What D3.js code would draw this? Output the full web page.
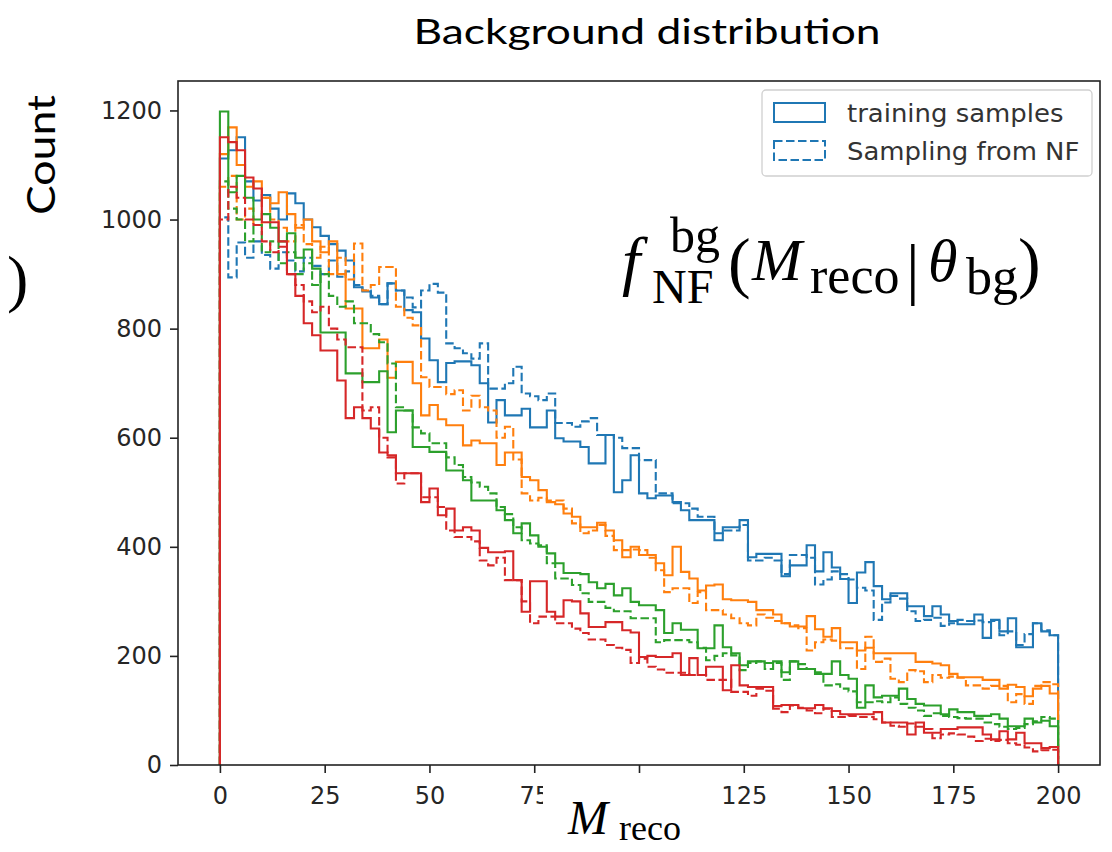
<!DOCTYPE html>
<html>
<head>
<meta charset="utf-8">
<script src="https://cdn.jsdelivr.net/npm/d3@7"></script>
<style>
  body { margin: 0; background: #fff; }
  text { font-family: "DejaVu Sans", sans-serif; }
</style>
</head>
<body>
<svg id="chart" width="1112" height="852"></svg>
<script>
// histogram counts, 100 bins of width 2 over [0, 200]
const binWidth = 2;
const xTicks = [0, 25, 50, 75, 100, 125, 150, 175, 200];
const yTicks = [0, 200, 400, 600, 800, 1000, 1200];

const trainBlue = [1112,1127,1151,1070,1035,1045,1020,1000,1048,1030,
  1000,986,970,955,943,925,876,868,857,845,
  883,870,834,830,782,742,702,737,740,740,
  733,700,628,669,641,641,653,619,619,650,
  599,593,593,583,553,553,605,500,522,568,
  498,489,494,494,482,467,449,449,449,412,
  436,436,449,381,387,387,387,346,366,366,
  403,355,390,362,341,297,353,372,328,304,
  315,315,291,291,273,291,276,264,258,258,
  276,233,266,245,269,216,216,260,245,238];
const nfBlue = [1004,894,958,930,960,935,910,940,925,905,
  930,915,900,925,895,905,880,870,860,845,
  883,870,857,839,870,882,866,773,764,755,
  745,773,690,690,700,730,681,676,669,681,
  627,627,620,630,636,605,605,600,581,581,
  559,559,498,498,480,480,470,455,455,425,
  430,430,440,375,375,380,375,350,385,385,
  380,331,340,355,350,340,325,320,266,298,
  310,305,282,264,266,270,255,260,266,264,
  265,262,264,238,245,220,240,260,247,238];
const trainOrange = [1120,1169,1100,1060,1070,1040,1030,1050,1010,985,
  1000,960,940,960,900,837,837,764,764,780,
  710,739,739,700,641,660,634,623,623,586,
  595,590,590,550,573,573,528,522,504,482,
  478,461,455,436,436,444,430,412,381,400,
  385,385,370,348,400,354,342,320,329,331,
  304,302,302,299,284,284,276,260,254,254,
  273,249,235,251,225,225,210,215,205,205,
  205,205,205,189,189,186,183,167,161,161,
  161,156,156,140,147,143,126,140,145,131];
const nfOrange = [1060,1080,1000,1020,990,1040,1000,985,960,990,
  955,930,950,900,930,890,956,870,880,913,
  913,840,820,806,711,693,693,680,687,650,
  677,656,650,600,620,560,498,485,490,485,
  485,470,443,425,430,440,420,394,394,395,
  394,380,357,317,324,324,297,317,284,284,
  276,269,260,256,276,270,264,260,256,251,
  210,225,230,228,214,214,176,235,189,195,
  158,152,174,172,152,165,160,162,160,146,
  146,140,145,145,115,130,112,145,152,148];
const trainGreen = [1198,1050,1080,1040,1000,1010,985,960,975,930,
  945,910,793,793,793,718,718,702,702,722,
  610,650,650,583,583,574,574,540,540,522,
  485,485,485,467,449,425,443,421,400,388,
  370,352,352,350,335,324,332,311,324,299,
  293,293,284,242,260,248,248,214,214,256,
  216,205,183,190,190,187,190,170,190,176,
  176,167,167,190,165,158,105,146,124,127,
  127,140,121,112,109,109,93,102,97,97,
  90,90,93,85,71,71,85,78,81,71];
const nfGreen = [1070,1020,1000,960,990,940,960,920,940,900,
  920,880,900,860,840,850,810,810,790,775,
  736,656,650,619,608,590,590,564,550,528,
  518,510,498,473,460,436,412,406,403,370,
  342,342,330,315,299,299,288,282,282,269,
  269,269,225,229,229,229,225,215,192,200,
  205,201,174,187,190,176,187,156,190,185,
  176,170,146,148,140,135,115,115,117,115,
  124,112,105,100,90,95,90,88,86,85,
  85,78,75,70,66,68,75,80,88,85];
const trainRed = [1151,1142,1127,1077,1057,995,995,960,900,860,
  810,788,760,760,705,636,656,636,617,573,
  568,535,535,535,482,507,458,470,430,436,
  430,398,390,390,392,339,281,337,337,281,
  272,302,300,278,253,253,262,262,247,243,
  198,200,198,198,205,165,196,165,180,180,
  137,183,146,143,143,143,108,110,110,104,
  104,110,104,99,93,93,93,93,97,78,
  78,78,56,78,59,59,66,66,69,69,
  69,56,47,62,47,59,40,40,31,33];
const nfRed = [1000,1060,1040,1000,990,960,940,950,900,880,
  850,830,840,800,780,766,766,650,656,600,
  564,516,535,535,491,491,473,430,418,418,
  410,375,366,380,339,339,300,260,272,272,
  260,260,250,242,230,230,220,215,211,187,
  195,180,175,169,169,169,165,165,156,156,
  156,134,134,127,140,136,103,97,109,105,
  100,95,103,88,88,90,88,88,84,78,
  72,70,76,70,66,49,56,58,56,52,
  44,48,44,46,40,37,32,25,27,28];

const series = [
  { values: trainBlue, color: "#1f77b4", dashed: false },
  { values: nfBlue, color: "#1f77b4", dashed: true },
  { values: trainOrange, color: "#ff7f0e", dashed: false },
  { values: nfOrange, color: "#ff7f0e", dashed: true },
  { values: trainGreen, color: "#2ca02c", dashed: false },
  { values: nfGreen, color: "#2ca02c", dashed: true },
  { values: trainRed, color: "#d62728", dashed: false },
  { values: nfRed, color: "#d62728", dashed: true },
];

const svg = d3.select("#chart");
const frame = { left: 178, right: 1100, top: 81, bottom: 765 };

const x = d3.scaleLinear().domain([-10, 210]).range([frame.left, frame.right]);
const y = d3.scaleLinear().domain([0, 1254]).range([frame.bottom, frame.top]);

// stretch svg text horizontally (the source image is a bit wider than tall)
function stretch(sel, k) {
  sel.each(function () {
    const w = this.getComputedTextLength();
    if (w > 0) d3.select(this).attr("textLength", w * k).attr("lengthAdjust", "spacingAndGlyphs");
  });
}

// step outlines like histtype="step"
const line = d3.line();
function stepPoints(values) {
  const pts = [[x(0), y(0)]];
  values.forEach((v, i) => {
    pts.push([x(i * binWidth), y(v)]);
    pts.push([x((i + 1) * binWidth), y(v)]);
  });
  pts.push([x(values.length * binWidth), y(0)]);
  return pts;
}

const plot = svg.append("g");
series.forEach(s => {
  plot.append("path")
    .attr("d", line(stepPoints(s.values)))
    .attr("fill", "none")
    .attr("stroke", s.color)
    .attr("stroke-width", 2.1)
    .attr("stroke-linejoin", "miter")
    .attr("stroke-dasharray", s.dashed ? "8.5,3.5" : null);
});

// frame
svg.append("rect")
  .attr("x", frame.left).attr("y", frame.top)
  .attr("width", frame.right - frame.left).attr("height", frame.bottom - frame.top)
  .attr("fill", "none").attr("stroke", "#222").attr("stroke-width", 1.6);

// axes
const xAxis = svg.append("g")
  .attr("transform", `translate(0,${frame.bottom})`)
  .call(d3.axisBottom(x).tickValues(xTicks).tickSize(8).tickPadding(8)
    .tickFormat(d => d === 100 ? "" : String(d)));
const yAxis = svg.append("g")
  .attr("transform", `translate(${frame.left},0)`)
  .call(d3.axisLeft(y).tickValues(yTicks).tickSize(8).tickPadding(8)
    .tickFormat(d3.format("d")));

[xAxis, yAxis].forEach(g => {
  g.select(".domain").remove();
  g.selectAll(".tick line").attr("stroke", "#222").attr("stroke-width", 1.6);
  g.selectAll(".tick text")
    .attr("fill", "#262626")
    .style("font-family", "'DejaVu Sans', sans-serif")
    .style("font-size", "24px");
});
xAxis.selectAll(".tick text").attr("dy", "0.95em");

// white patch hiding part of the x tick labels, as in the pasted image
svg.append("rect").attr("x", 543).attr("y", 778).attr("width", 95).attr("height", 36).attr("fill", "#fff");

// legend
const legend = svg.append("g");
legend.append("rect")
  .attr("x", 762).attr("y", 90).attr("width", 330).attr("height", 86)
  .attr("rx", 4).attr("fill", "#fff").attr("fill-opacity", 0.8)
  .attr("stroke", "#d0d0d0").attr("stroke-width", 1.3);
const legendItems = [
  { label: "training samples", dashed: false },
  { label: "Sampling from NF", dashed: true },
];
legendItems.forEach((d, i) => {
  const top = 103 + i * 38;
  legend.append("rect")
    .attr("x", 774).attr("y", top).attr("width", 51).attr("height", 19)
    .attr("fill", "none").attr("stroke", "#1f77b4").attr("stroke-width", 2)
    .attr("stroke-dasharray", d.dashed ? "8.5,3.5" : null);
  legend.append("text")
    .attr("x", 847).attr("y", top + 19)
    .attr("fill", "#333")
    .style("font-size", "24px")
    .text(d.label);
});
stretch(legend.selectAll("text"), 1.08);

// title and outer labels (from the slide)
svg.append("text")
  .attr("x", 647).attr("y", 44).attr("text-anchor", "middle")
  .style("font-family", "Lato, 'Open Sans', sans-serif").style("font-size", "34px")
  .attr("fill", "#000")
  .attr("textLength", 467).attr("lengthAdjust", "spacingAndGlyphs")
  .text("Background distribution");

svg.append("text")
  .attr("transform", "translate(55,155) rotate(-90)")
  .attr("text-anchor", "middle")
  .style("font-family", "Lato, 'Open Sans', sans-serif").style("font-size", "38px")
  .attr("textLength", 120).attr("lengthAdjust", "spacingAndGlyphs")
  .text("Count");

svg.append("text")
  .attr("x", 7).attr("y", 300)
  .style("font-family", "'Liberation Serif', serif").style("font-size", "64px")
  .text(")");

// math annotation f_NF^bg(M_reco | theta_bg)
const serif = "'Liberation Serif', 'DejaVu Serif', serif";
const math = svg.append("g").style("font-family", serif).attr("fill", "#000");
function mtext(xp, yp, size, str, italic) {
  math.append("text").attr("x", xp).attr("y", yp)
    .style("font-family", serif).style("font-size", size + "px")
    .style("font-style", italic ? "italic" : "normal")
    .text(str);
}
mtext(622, 283, 66, "f", true);
mtext(670, 252, 50, "bg", false);
mtext(652, 303, 48, "NF", false);
mtext(728, 285, 68, "(", false);
mtext(752, 280, 60, "M", true);
mtext(810, 293, 52, "reco", false);
mtext(906, 292, 68, "|", false);
mtext(928, 281, 60, "θ", true);
mtext(966, 294, 52, "bg", false);
mtext(1018, 285, 68, ")", false);

// x label M_reco
mtext(568, 834, 48, "M", true);
mtext(619, 840, 36, "reco", false);
</script>
</body>
</html>
